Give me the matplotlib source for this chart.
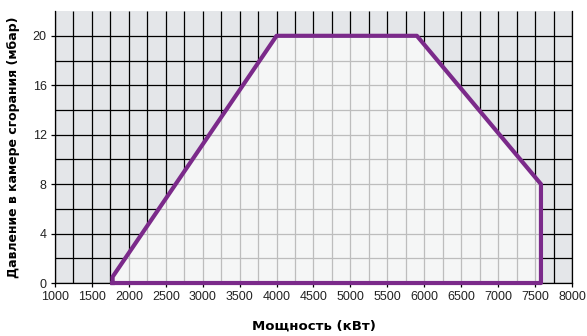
import matplotlib
matplotlib.use('Agg')
import matplotlib.pyplot as plt
import numpy as np
from matplotlib.patches import Polygon

# working range of the burner (kW, mbar)
power = [1780, 1780, 4000, 5900, 7580, 7580]
pressure = [0, 0.5, 20, 20, 8, 0]

x_ticks = [1000, 1500, 2000, 2500, 3000, 3500, 4000, 4500, 5000, 5500, 6000, 6500, 7000, 7500, 8000]
y_ticks = [0, 4, 8, 12, 16, 20]
x_grid = np.arange(1000, 8001, 250)
y_grid = np.arange(0, 21, 2)

fig = plt.figure(figsize=(5.87, 3.36), dpi=100)
ax = fig.add_axes([0.0937, 0.1577, 0.8807, 0.8093])
ax.set_facecolor('#e4e6e9')
ax.set_xlim(1000, 8000)
ax.set_ylim(0, 22)

# black grid everywhere
ax.vlines(x_grid, 0, 22, colors='black', linewidth=0.9, zorder=1)
ax.hlines(y_grid, 1000, 8000, colors='black', linewidth=0.9, zorder=1)

# light area inside the working field
poly = Polygon(list(zip(power, pressure)), closed=True, facecolor='#f5f6f6',
               edgecolor='none', zorder=2)
ax.add_patch(poly)
vl = ax.vlines(x_grid, 0, 22, colors='#bdbdbd', linewidth=0.9, zorder=3)
hl = ax.hlines(y_grid, 1000, 8000, colors='#bdbdbd', linewidth=0.9, zorder=3)
vl.set_clip_path(poly)
hl.set_clip_path(poly)

ax.plot(power + [power[0]], pressure + [pressure[0]], color='#7b2a8a',
        linewidth=3, solid_joinstyle='round', zorder=5, clip_on=False)

ax.spines['top'].set_visible(False)
for s in ['left', 'bottom', 'right']:
    ax.spines[s].set_color('black')
    ax.spines[s].set_linewidth(0.9)

ax.set_xticks(x_ticks)
ax.set_yticks(y_ticks)
ax.tick_params(direction='out', length=3, width=0.9, colors='black',
               labelcolor='#222222', labelsize=9, pad=3)
for lab in ax.get_xticklabels() + ax.get_yticklabels():
    lab.set_family('Liberation Sans')

ax.set_xlabel('Мощность (кВт)', fontsize=9.5, fontweight='bold', labelpad=12)
ax.set_ylabel('Давление в камере сгорания (мбар)', fontsize=9, fontweight='bold', labelpad=9)

plt.savefig('out.png', dpi=100)
